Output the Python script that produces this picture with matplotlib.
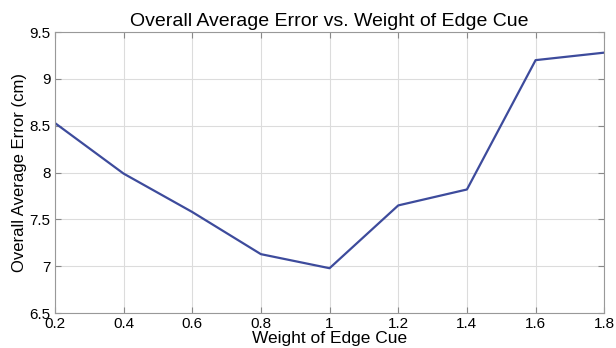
import matplotlib
matplotlib.use("Agg")
import matplotlib.pyplot as plt

weights = [0.2, 0.4, 0.6, 0.8, 1.0, 1.2, 1.4, 1.6, 1.8]
avg_error = [8.53, 7.99, 7.58, 7.13, 6.98, 7.65, 7.82, 9.20, 9.28]
x_ticks = [0.2, 0.4, 0.6, 0.8, 1.0, 1.2, 1.4, 1.6, 1.8]
x_labels = ["0.2", "0.4", "0.6", "0.8", "1", "1.2", "1.4", "1.6", "1.8"]
y_ticks = [6.5, 7, 7.5, 8, 8.5, 9, 9.5]
y_labels = ["6.5", "7", "7.5", "8", "8.5", "9", "9.5"]

plt.rcParams["font.family"] = ["Liberation Sans", "DejaVu Sans"]

fig = plt.figure(figsize=(6.16, 3.48), dpi=100)
ax = fig.add_axes([0.089, 0.10, 0.892, 0.808])
ax.plot(weights, avg_error, color="#3d4b9c", linewidth=1.6)
ax.set_xlim(0.2, 1.8)
ax.set_ylim(6.5, 9.5)
ax.set_xticks(x_ticks, x_labels)
ax.set_yticks(y_ticks, y_labels)
ax.grid(True, color="#dcdcdc", linewidth=0.8)
ax.tick_params(direction="in", top=True, right=True, labelsize=11, length=4,
               color="#888888")
ax.tick_params(axis="x", pad=3)
ax.tick_params(axis="y", pad=3)
for s in ax.spines.values():
    s.set_color("#999999")
ax.set_xlabel("Weight of Edge Cue", fontsize=12.5, labelpad=0)
ax.set_ylabel("Overall Average Error (cm)", fontsize=12, labelpad=2)
ax.set_title("Overall Average Error vs. Weight of Edge Cue", fontsize=14, pad=4)
fig.savefig("out.png", dpi=100, facecolor="white")
